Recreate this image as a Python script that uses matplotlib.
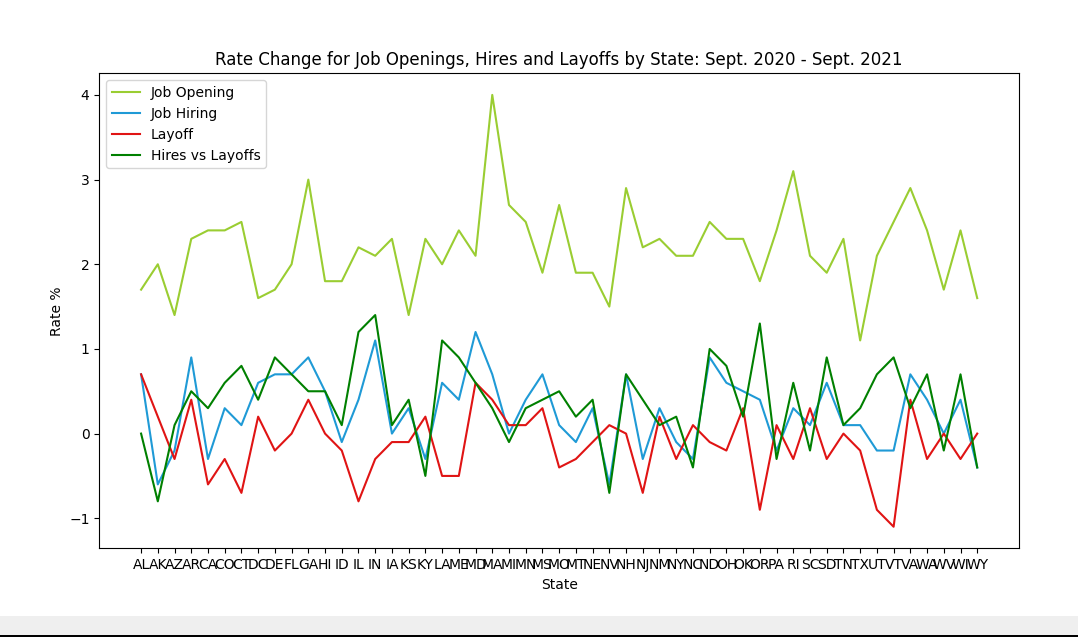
import matplotlib
matplotlib.use("Agg")
import matplotlib.pyplot as plt
from matplotlib.patches import Rectangle

# --- Data (rate change, Sept. 2020 - Sept. 2021) ---
states = ['AL', 'AK', 'AZ', 'AR', 'CA', 'CO', 'CT', 'DC', 'DE', 'FL', 'GA', 'HI', 'ID',
          'IL', 'IN', 'IA', 'KS', 'KY', 'LA', 'ME', 'MD', 'MA', 'MI', 'MN', 'MS', 'MO',
          'MT', 'NE', 'NV', 'NH', 'NJ', 'NM', 'NY', 'NC', 'ND', 'OH', 'OK', 'OR', 'PA',
          'RI', 'SC', 'SD', 'TN', 'TX', 'UT', 'VT', 'VA', 'WA', 'WV', 'WI', 'WY']

job_opening = [1.7, 2.0, 1.4, 2.3, 2.4, 2.4, 2.5, 1.6, 1.7, 2.0, 3.0, 1.8, 1.8,
               2.2, 2.1, 2.3, 1.4, 2.3, 2.0, 2.4, 2.1, 4.0, 2.7, 2.5, 1.9, 2.7,
               1.9, 1.9, 1.5, 2.9, 2.2, 2.3, 2.1, 2.1, 2.5, 2.3, 2.3, 1.8, 2.4,
               3.1, 2.1, 1.9, 2.3, 1.1, 2.1, 2.5, 2.9, 2.4, 1.7, 2.4, 1.6]

job_hiring = [0.7, -0.6, -0.2, 0.9, -0.3, 0.3, 0.1, 0.6, 0.7, 0.7, 0.9, 0.5, -0.1,
              0.4, 1.1, 0.0, 0.3, -0.3, 0.6, 0.4, 1.2, 0.7, 0.0, 0.4, 0.7, 0.1,
              -0.1, 0.3, -0.6, 0.7, -0.3, 0.3, -0.1, -0.3, 0.9, 0.6, 0.5, 0.4, -0.2,
              0.3, 0.1, 0.6, 0.1, 0.1, -0.2, -0.2, 0.7, 0.4, 0.0, 0.4, -0.4]

layoff = [0.7, 0.2, -0.3, 0.4, -0.6, -0.3, -0.7, 0.2, -0.2, 0.0, 0.4, 0.0, -0.2,
          -0.8, -0.3, -0.1, -0.1, 0.2, -0.5, -0.5, 0.6, 0.4, 0.1, 0.1, 0.3, -0.4,
          -0.3, -0.1, 0.1, 0.0, -0.7, 0.2, -0.3, 0.1, -0.1, -0.2, 0.3, -0.9, 0.1,
          -0.3, 0.3, -0.3, 0.0, -0.2, -0.9, -1.1, 0.4, -0.3, 0.0, -0.3, 0.0]

hires_vs_layoffs = [0.0, -0.8, 0.1, 0.5, 0.3, 0.6, 0.8, 0.4, 0.9, 0.7, 0.5, 0.5, 0.1,
                    1.2, 1.4, 0.1, 0.4, -0.5, 1.1, 0.9, 0.6, 0.3, -0.1, 0.3, 0.4, 0.5,
                    0.2, 0.4, -0.7, 0.7, 0.4, 0.1, 0.2, -0.4, 1.0, 0.8, 0.2, 1.3, -0.3,
                    0.6, -0.2, 0.9, 0.1, 0.3, 0.7, 0.9, 0.3, 0.7, -0.2, 0.7, -0.4]

# --- Plot ---
fig = plt.figure(figsize=(10.78, 6.37), dpi=100)
ax = fig.add_axes([0.0921, 0.1392, 0.8532, 0.7457])

ax.plot(states, job_opening, color='yellowgreen', label='Job Opening')
ax.plot(states, job_hiring, color='#1f9ad6', label='Job Hiring')
ax.plot(states, layoff, color='#e01414', label='Layoff')
ax.plot(states, hires_vs_layoffs, color='green', label='Hires vs Layoffs')

ax.set_title('Rate Change for Job Openings, Hires and Layoffs by State: Sept. 2020 - Sept. 2021')
ax.set_xlabel('State')
ax.set_ylabel('Rate %')
ax.legend(loc='upper left')

# grey strip along the bottom of the screenshot
fig.patches.append(Rectangle((0, 0.0025), 1, 0.0305, transform=fig.transFigure,
                             facecolor='#efefef', edgecolor='none', zorder=-1))
fig.patches.append(Rectangle((0, 0), 1, 0.0025, transform=fig.transFigure,
                             facecolor='black', edgecolor='none', zorder=-1))

fig.savefig('out.png', dpi=100)
